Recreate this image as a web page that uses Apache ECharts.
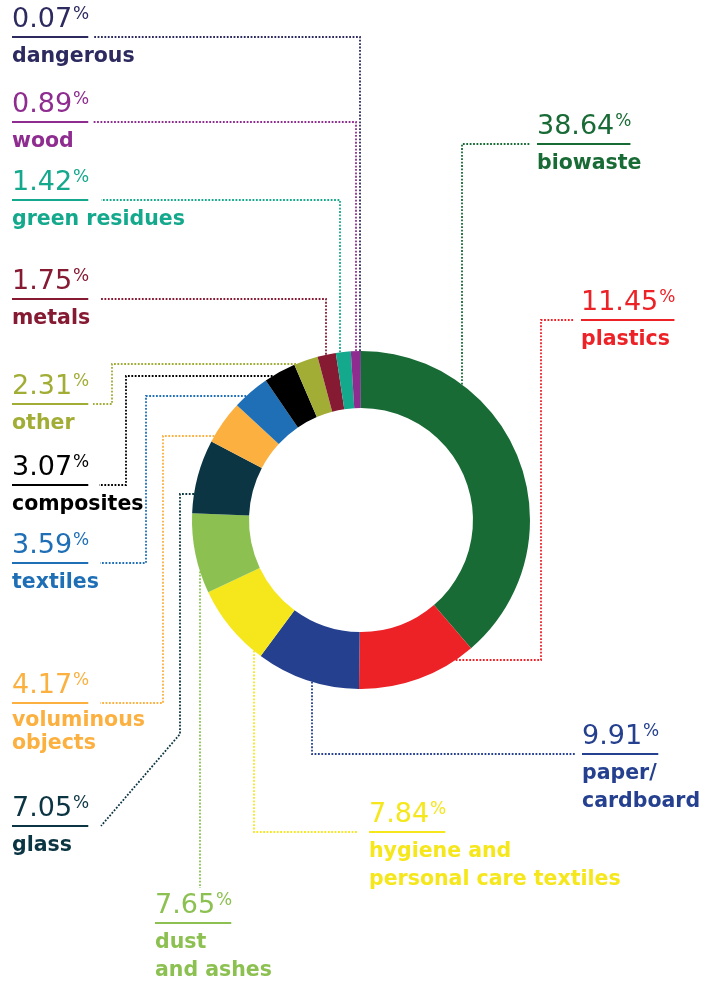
<!DOCTYPE html>
<html><head><meta charset="utf-8">
<script src="https://cdn.jsdelivr.net/npm/echarts@6/dist/echarts.min.js"></script>
<style>html,body{margin:0;padding:0;background:#fff}#c{width:708px;height:981px}</style>
</head><body><div id="c"></div>
<script>
// ---- data ----
const categories = ['biowaste', 'plastics', 'paper/\ncardboard', 'hygiene and\npersonal care textiles',
  'dust\nand ashes', 'glass', 'voluminous\nobjects', 'textiles', 'composites', 'other',
  'metals', 'green residues', 'wood', 'dangerous'];
const shares = [38.64, 11.45, 9.91, 7.84, 7.65, 7.05, 4.17, 3.59, 3.07, 2.31, 1.75, 1.42, 0.89, 0.07];
const colors = ['#196b36', '#ec2227', '#25408f', '#f5e71b', '#8cc152', '#0c3544', '#fbb03f',
  '#1f6fb6', '#000000', '#a2ad36', '#851a32', '#14a88c', '#8e2c90', '#2d2a5f'];

// ---- layout (positions only) ----
const CX = 361, CY = 520, R0 = 112, R1 = 169;
// label: left x, underline y; leader: axis where it meets the ring + waypoints
const labelPos = [
  {x: 537, u: 144, ax: 'x', at: 462, path: [[462, 144], [530, 144]]},
  {x: 581, u: 320, ax: 'y', at: 660, path: [[541, 660], [541, 320], [574, 320]]},
  {x: 582, u: 754, ax: 'x', at: 312, path: [[312, 754], [575, 754]]},
  {x: 369, u: 832, ax: 'x', at: 254, path: [[254, 832], [357, 832]]},
  {x: 155, u: 923, ax: 'x', at: 200, path: [[200, 888]]},
  {x: 12, u: 826, ax: 'y', at: 494, path: [[180, 494], [180, 734], [101, 826]]},
  {x: 12, u: 703, ax: 'y', at: 436, path: [[163, 436], [163, 703], [100, 703]], lh: 23},
  {x: 12, u: 563, ax: 'y', at: 396, path: [[146, 396], [146, 563], [100, 563]]},
  {x: 12, u: 485, ax: 'y', at: 376, path: [[126, 376], [126, 485], [99, 485]]},
  {x: 12, u: 404, ax: 'y', at: 364, path: [[112, 364], [112, 404], [93, 404]]},
  {x: 12, u: 299, ax: 'x', at: 326, path: [[326, 299], [100, 299]]},
  {x: 12, u: 200, ax: 'x', at: 340, path: [[340, 200], [101, 200]]},
  {x: 12, u: 122, ax: 'x', at: 356, path: [[356, 122], [93, 122]]},
  {x: 12, u: 37, ax: 'x', at: 360, path: [[360, 37], [93, 37]]}
];

const VF = "'DejaVu Sans'", NF = "'DejaVu Sans'";
const V_W = 'normal', V_SIZE = 27, P_SIZE = 17, N_SIZE = 20.5;
const V_LH = 22, U_LH = 12;
const U_OFF = V_LH + U_LH / 2;

const ctx = document.createElement('canvas').getContext('2d');
function measure(t, font) { ctx.font = font; return ctx.measureText(t).width; }

function ringStart(p) {
  const first = p.path[0];
  if (p.ax === 'x') {
    const d = Math.sqrt(R1 * R1 - (p.at - CX) * (p.at - CX));
    return [p.at, CY + (first[1] < CY ? -d : d)];
  }
  const d = Math.sqrt(R1 * R1 - (p.at - CY) * (p.at - CY));
  return [CX + (first[0] < CX ? -d : d), p.at];
}

const data = categories.map((name, i) => {
  const val = shares[i].toFixed(2);
  const w = measure(val, `${V_W} ${V_SIZE}px ${VF}`) + measure('%', `${V_W} ${P_SIZE}px ${VF}`);
  return {
    name: name,
    value: shares[i],
    itemStyle: {color: colors[i]},
    label: {
      color: colors[i],
      rich: {
        v: {fontFamily: VF, fontWeight: V_W, fontSize: V_SIZE, lineHeight: V_LH, color: colors[i]},
        p: {fontFamily: VF, fontWeight: V_W, fontSize: P_SIZE, lineHeight: 4, verticalAlign: 'bottom', padding: [0, 0, 8, 1], color: colors[i]},
        u: {width: w, height: 0, borderWidth: 2, borderColor: colors[i], lineHeight: U_LH},
        n: {fontFamily: NF, fontWeight: 'bold', fontSize: N_SIZE, lineHeight: labelPos[i].lh || 28, color: colors[i]}
      }
    }
  };
});

const chart = echarts.init(document.getElementById('c'), null, {renderer: 'canvas'});
chart.setOption({
  animation: false,
  backgroundColor: '#ffffff',
  series: [{
    type: 'pie',
    center: [CX, CY],
    radius: [R0, R1],
    startAngle: 90,
    clockwise: true,
    avoidLabelOverlap: false,
    silent: true,
    emphasis: {disabled: true},
    itemStyle: {borderWidth: 0},
    label: {
      show: true,
      position: 'outside',
      width: 320,
      overflow: 'none',
      formatter: p => `{v|${p.value.toFixed(2)}}{p|%}\n{u|}\n{n|${p.name}}`
    },
    labelLine: {show: true, smooth: false, lineStyle: {width: 1.8, type: [1.8, 1.6]}},
    labelLayout: params => {
      const p = labelPos[params.dataIndex];
      return {
        x: p.x,
        y: p.u - U_OFF,
        align: 'left',
        verticalAlign: 'top',
        labelLinePoints: [ringStart(p)].concat(p.path)
      };
    },
    data: data
  }]
});
</script>
</body></html>
